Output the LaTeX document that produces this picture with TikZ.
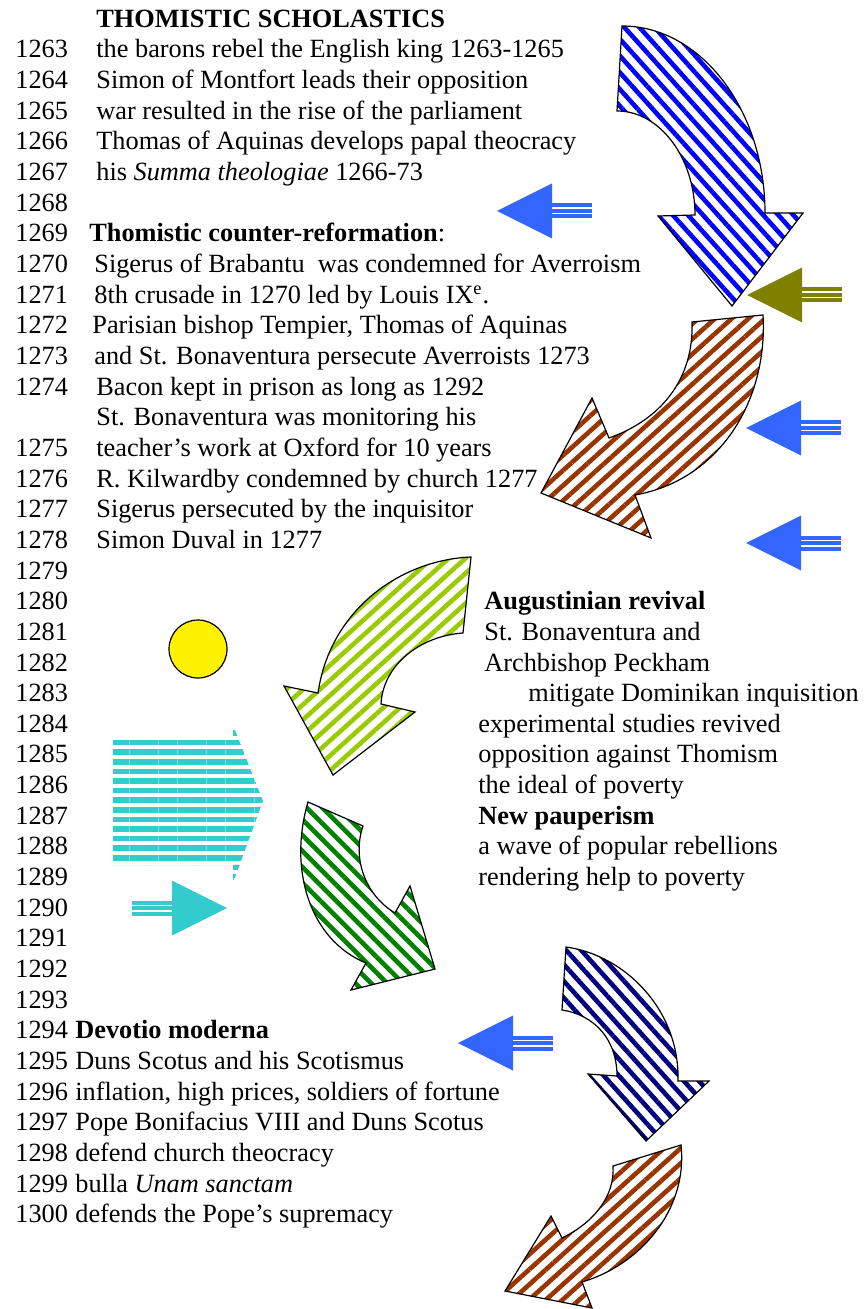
\documentclass[tikz,border=0pt]{standalone}
\usepackage{fontspec}
\setmainfont{Liberation Serif}
\usetikzlibrary{patterns.meta}

\definecolor{royalstripe}{HTML}{0000FF}
\definecolor{rust}{HTML}{993300}
\definecolor{lightgreen}{HTML}{99CC00}
\definecolor{leafgreen}{HTML}{008000}
\definecolor{navyblue}{HTML}{000080}
\definecolor{skyblue}{HTML}{3366FF}
\definecolor{olivegold}{HTML}{808000}
\definecolor{aqua}{HTML}{33CCCC}

\newcommand\rowy[1]{58+30.65*#1}

\begin{document}
\begin{tikzpicture}[x=0.5pt, y=-0.5pt,
    txt/.style={anchor=base west, inner sep=0pt, font=\fontsize{13.15}{15}\selectfont},
    curvearrow/.style 2 args={draw=black, line width=0.6pt, line join=miter,
        pattern={Lines[angle=#1,distance=5.6pt,line width=2.3pt]}, pattern color=#2},
    thinarrow/.pic={
        \fill (0,0) -- (55,-27.5) -- (55,27.5) -- cycle;
        \foreach \o in {-5.5,0,5.5} \draw[line width=2pt] (55,\o) -- (95,\o);
    }]
    \useasboundingbox (0,0) rectangle (866,1309);

    % year column
    \foreach \yr in {1263,...,1300}{
        \pgfmathtruncatemacro\row{\yr<1275 ? \yr-1263 : \yr-1262}
        \node[txt] (y\yr) at (15,{\rowy{\row}}) {\yr};
    }

    % left column texts
    \node[txt] (title) at (96,{\rowy{-1}}) {\textbf{THOMISTIC SCHOLASTICS}};
    \node[txt] (barons) at (96,{\rowy{0}}) {the barons rebel the English king 1263-1265};
    \node[txt] (montfort) at (96,{\rowy{1}}) {Simon of Montfort leads their opposition};
    \node[txt] (parliament) at (96,{\rowy{2}}) {war resulted in the rise of the parliament};
    \node[txt] (aquinas) at (96,{\rowy{3}}) {Thomas of Aquinas develops papal theocracy};
    \node[txt] (summa) at (96,{\rowy{4}}) {his \textit{Summa theologiae} 1266-73};
    \node[txt] (counter) at (89,{\rowy{6}}) {\textbf{Thomistic counter-reformation}:};
    \node[txt] (sigerus) at (94,{\rowy{7}}) {Sigerus of Brabantu\ \ was condemned for Averroism};
    \node[txt] (crusade) at (94,{\rowy{8}}) {8th crusade in 1270 led by Louis IX\textsuperscript{e}.};
    \node[txt] (tempier) at (92,{\rowy{9}}) {Parisian bishop Tempier, Thomas of Aquinas};
    \node[txt] (averroists) at (94,{\rowy{10}}) {and St. Bonaventura persecute Averroists 1273};
    \node[txt] (bacon) at (96,{\rowy{11}}) {Bacon kept in prison as long as 1292};
    \node[txt] (monitor) at (96,{\rowy{12}}) {St. Bonaventura was monitoring his};
    \node[txt] (oxford) at (96,{\rowy{13}}) {teacher's work at Oxford for 10 years};
    \node[txt] (kilwardby) at (96,{\rowy{14}}) {R. Kilwardby condemned by church 1277};
    \node[txt] (inquisitor) at (96,{\rowy{15}}) {Sigerus persecuted by the inquisitor};
    \node[txt] (duval) at (96,{\rowy{16}}) {Simon Duval in 1277};
    \node[txt] (devotio) at (75,{\rowy{32}}) {\textbf{Devotio moderna}};
    \node[txt] (scotus) at (75,{\rowy{33}}) {Duns Scotus and his Scotismus};
    \node[txt] (inflation) at (75,{\rowy{34}}) {inflation, high prices, soldiers of fortune};
    \node[txt] (bonifacius) at (75,{\rowy{35}}) {Pope Bonifacius VIII and Duns Scotus};
    \node[txt] (defend) at (75,{\rowy{36}}) {defend church theocracy};
    \node[txt] (bulla) at (75,{\rowy{37}}) {bulla \textit{Unam sanctam}};
    \node[txt] (supremacy) at (75,{\rowy{38}}) {defends the Pope's supremacy};

    % right column texts
    \node[txt] (augustin) at (484,{\rowy{18}}) {\textbf{Augustinian revival}};
    \node[txt] (bonav) at (484,{\rowy{19}}) {St. Bonaventura and};
    \node[txt] (peckham) at (484,{\rowy{20}}) {Archbishop Peckham};
    \node[txt] (mitigate) at (528,{\rowy{21}}) {mitigate Dominikan inquisition};
    \node[txt] (studies) at (478,{\rowy{22}}) {experimental studies revived};
    \node[txt] (thomism) at (478,{\rowy{23}}) {opposition against Thomism};
    \node[txt] (ideal) at (478,{\rowy{24}}) {the ideal of poverty};
    \node[txt] (pauper) at (478,{\rowy{25}}) {\textbf{New pauperism}};
    \node[txt] (wave) at (478,{\rowy{26}}) {a wave of popular rebellions};
    \node[txt] (help) at (478,{\rowy{27}}) {rendering help to poverty};

    % curved striped arrows
    \path[curvearrow={-48}{royalstripe}] (622,26) .. controls (701,26) and (765,110) .. (765,213)
        -- (803,213) -- (732,306) -- (658,216) -- (695,215)
        .. controls (695,158) and (660,111) .. (617,111) -- cycle;
    \path[curvearrow={42}{rust}] (692,322) -- (763,315) .. controls (768,400) and (720,480) .. (635,495)
        -- (651,538) -- (541,493) -- (592,398) -- (609,438)
        .. controls (660,420) and (694,380) .. (692,322) -- cycle;
    \path[curvearrow={42}{lightgreen}] (471,557) -- (463,633) .. controls (420,636) and (383,665) .. (381,704)
        -- (415,712) -- (333,775) -- (284,686) -- (318,693)
        .. controls (330,610) and (400,560) .. (471,557) -- cycle;
    \path[curvearrow={-45}{leafgreen}] (308,802) -- (363,826) .. controls (352,858) and (365,895) .. (395,913)
        -- (410,886) -- (435,969) -- (351,990) -- (366,963)
        .. controls (310,940) and (288,870) .. (308,802) -- cycle;
    \path[curvearrow={-48}{navyblue}] (566,947) .. controls (625,955) and (680,1010) .. (678,1081)
        -- (709,1081) -- (646,1141) -- (588,1074) -- (617,1076)
        .. controls (617,1040) and (595,1015) .. (562,1010) -- cycle;
    \path[curvearrow={42}{rust}] (681,1145) .. controls (688,1210) and (640,1265) .. (582,1282)
        -- (592,1308) -- (505,1291) -- (551,1216) -- (562,1238)
        .. controls (595,1222) and (615,1195) .. (613,1166) -- cycle;

    % striped block arrow, sun
    \path[pattern={Lines[angle=0,distance=4.8pt,line width=2.8pt]}, pattern color=aqua]
        (113,740) -- (233,740) -- (233,725) -- (263,801) -- (233,883) -- (233,865) -- (113,865) -- cycle;
    \node[circle, draw, line width=0.6pt, fill=yellow, minimum size=29pt, inner sep=0pt] (sun) at (198,649) {};

    % small arrows
    \pic[color=skyblue] at (497,211) {thinarrow};
    \pic[color=olivegold] at (747,295) {thinarrow};
    \pic[color=skyblue] at (746,428) {thinarrow};
    \pic[color=skyblue] at (746,543) {thinarrow};
    \pic[color=skyblue] at (458,1043) {thinarrow};
    \pic[color=aqua, rotate=180] at (227,908) {thinarrow};
\end{tikzpicture}
\end{document}
